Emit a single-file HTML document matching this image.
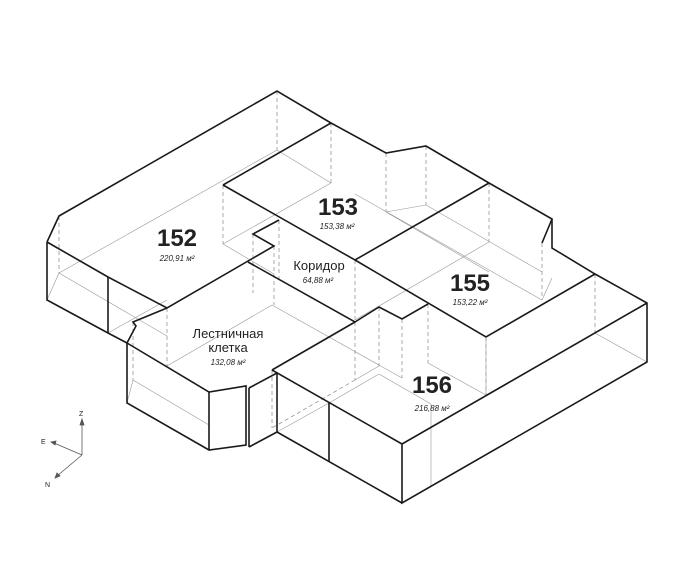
<!DOCTYPE html>
<html><head><meta charset="utf-8"><style>
html,body{margin:0;padding:0;background:#fff}
svg{display:block}
text{font-family:"Liberation Sans","DejaVu Sans",sans-serif;fill:#222}
</style></head><body>
<svg width="700" height="583" viewBox="0 0 700 583" xmlns="http://www.w3.org/2000/svg">
<g stroke="#888" stroke-width="0.7" fill="none" stroke-dasharray="4,3">
<line x1="277" y1="91" x2="277" y2="150"/>
<line x1="331" y1="123" x2="331" y2="183"/>
<line x1="59" y1="216" x2="59" y2="273"/>
<line x1="223" y1="185" x2="223" y2="244"/>
<line x1="386" y1="153" x2="386" y2="212"/>
<line x1="426" y1="146" x2="426" y2="205"/>
<line x1="489" y1="183" x2="489" y2="242"/>
<line x1="542" y1="243" x2="542" y2="300"/>
<line x1="595" y1="274" x2="595" y2="333"/>
<line x1="355" y1="260" x2="355" y2="322"/>
<line x1="279" y1="220" x2="279" y2="280"/>
<line x1="274" y1="246" x2="274" y2="305"/>
<line x1="253" y1="234" x2="253" y2="293"/>
<line x1="133" y1="322" x2="133" y2="380"/>
<line x1="167" y1="308" x2="167" y2="366"/>
<line x1="108" y1="277" x2="108" y2="333"/>
<line x1="272" y1="370" x2="272" y2="428"/>
<line x1="379" y1="307" x2="379" y2="366"/>
<line x1="402" y1="319" x2="402" y2="378"/>
<line x1="428" y1="304" x2="428" y2="363"/>
<line x1="486" y1="337" x2="486" y2="395"/>
<line x1="355" y1="322" x2="355" y2="380"/>
<line x1="355" y1="380" x2="272" y2="428"/>
</g>
<g stroke="#999" stroke-width="0.6" fill="none">
<line x1="277" y1="150" x2="59" y2="273"/>
<line x1="277" y1="150" x2="331" y2="183"/>
<line x1="331" y1="183" x2="223" y2="244"/>
<line x1="223" y1="244" x2="274" y2="274"/>
<line x1="386" y1="212" x2="426" y2="205"/>
<line x1="386" y1="212" x2="489" y2="272"/>
<line x1="426" y1="205" x2="542" y2="272"/>
<line x1="489" y1="242" x2="355" y2="320"/>
<line x1="542" y1="300" x2="552" y2="278"/>
<line x1="542" y1="300" x2="355" y2="194"/>
<line x1="595" y1="333" x2="647" y2="362"/>
<line x1="595" y1="333" x2="486" y2="395"/>
<line x1="59" y1="273" x2="47" y2="300"/>
<line x1="59" y1="273" x2="167" y2="336"/>
<line x1="108" y1="333" x2="167" y2="300"/>
<line x1="133" y1="380" x2="209" y2="425"/>
<line x1="133" y1="380" x2="127" y2="403"/>
<line x1="167" y1="366" x2="272" y2="305"/>
<line x1="272" y1="305" x2="402" y2="378"/>
<line x1="379" y1="366" x2="355" y2="380"/>
<line x1="428" y1="363" x2="486" y2="395"/>
<line x1="329" y1="403" x2="379" y2="374"/>
<line x1="379" y1="374" x2="431" y2="404"/>
<line x1="431" y1="404" x2="431" y2="486"/>
<line x1="277" y1="432" x2="329" y2="403"/>
<line x1="486" y1="395" x2="647" y2="303"/>
<line x1="486" y1="337" x2="486" y2="395"/>
</g>
<g stroke="#1a1a1a" stroke-width="1.6" fill="none" stroke-linejoin="miter">
<polyline points="47,242 59,216 277,91 331,123 386,153 426,146 489,183 552,219 542,243"/>
<polyline points="552,219 552,248 595,274 647,303 647,362 402,503 402,444 647,303"/>
<polyline points="47,242 47,300 108,333 127,343"/>
<line x1="108" y1="277" x2="108" y2="333"/>
<polyline points="47,242 108,277 167,308 274,246 253,234 279,220"/>
<polyline points="223,185 331,123"/>
<polyline points="223,185 355,260 489,183"/>
<polyline points="355,260 486,337 595,274"/>
<polyline points="248,262 355,322 379,307 402,319 428,304"/>
<polyline points="272,370 355,322"/>
<polyline points="272,370 402,444"/>
<line x1="277" y1="373" x2="277" y2="432"/>
<polyline points="277,432 402,503"/>
<line x1="329" y1="403" x2="329" y2="462"/>
<polyline points="167,308 133,322 136,326 127,343 127,403 209,450 246,445 246,386 209,392 127,343"/>
<line x1="209" y1="392" x2="209" y2="450"/>
<line x1="249" y1="388" x2="249" y2="447"/>
<polyline points="249,388 277,373"/>
<polyline points="249,447 277,432"/>
</g>
<g stroke="#555" stroke-width="0.8" fill="#555">
<line x1="82" y1="455" x2="82" y2="422"/>
<polygon points="82,419 80,425 84,425"/>
<line x1="82" y1="455" x2="54" y2="443"/>
<polygon points="51,442 56,441 55,445"/>
<line x1="82" y1="455" x2="57" y2="476"/>
<polygon points="55,478 57,473 60,476"/>
</g>
<text x="79" y="416" font-size="7">Z</text>
<text x="41" y="444" font-size="7">E</text>
<text x="45" y="487" font-size="7">N</text>
<g text-anchor="middle">
<text x="177" y="246" font-size="24" font-weight="bold">152</text>
<text x="177" y="261" font-size="8" font-style="italic">220,91 м²</text>
<text x="338" y="215" font-size="24" font-weight="bold">153</text>
<text x="337" y="229" font-size="8" font-style="italic">153,38 м²</text>
<text x="319" y="270" font-size="13">Коридор</text>
<text x="318" y="283" font-size="8" font-style="italic">64,88 м²</text>
<text x="470" y="291" font-size="24" font-weight="bold">155</text>
<text x="470" y="305" font-size="8" font-style="italic">153,22 м²</text>
<text x="228" y="338" font-size="13">Лестничная</text>
<text x="228" y="352" font-size="13">клетка</text>
<text x="228" y="365" font-size="8" font-style="italic">132,08 м²</text>
<text x="432" y="393" font-size="24" font-weight="bold">156</text>
<text x="432" y="411" font-size="8" font-style="italic">216,88 м²</text>
</g>
</svg>
</body></html>
